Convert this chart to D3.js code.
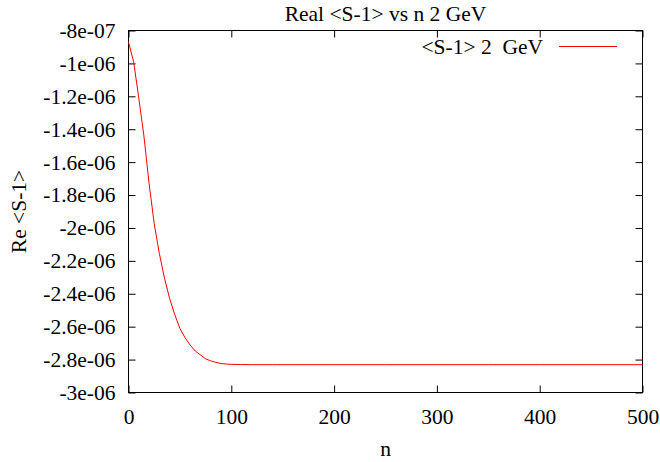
<!DOCTYPE html>
<html>
<head>
<meta charset="utf-8">
<script src="https://cdn.jsdelivr.net/npm/d3@7"></script>
<style>
  html, body { margin: 0; padding: 0; background: #fff; }
  svg { display: block; }
</style>
</head>
<body>
<svg id="chart" width="660" height="462"></svg>
<script>
// ---- data ----
const nValues = [0, 5, 10, 15, 20, 25, 30, 35, 40, 45, 50, 55, 60, 65, 70, 75, 80, 85, 90, 95, 100, 110, 120, 140, 160, 200, 250, 300, 350, 400, 450, 500];
const reS1 = [-8.71e-7, -9.9e-7, -1.21e-6, -1.441e-6, -1.728e-6, -1.974e-6, -2.155e-6, -2.305e-6, -2.428e-6, -2.527e-6, -2.61e-6, -2.667e-6, -2.712e-6, -2.748e-6, -2.772e-6, -2.795e-6, -2.808e-6, -2.817e-6, -2.824e-6, -2.827e-6, -2.829e-6, -2.830e-6, -2.831e-6, -2.831e-6, -2.831e-6, -2.831e-6, -2.831e-6, -2.831e-6, -2.831e-6, -2.831e-6, -2.831e-6, -2.831e-6];
const xTicks = [0, 100, 200, 300, 400, 500];
const yTicks = [-8e-7, -1e-6, -1.2e-6, -1.4e-6, -1.6e-6, -1.8e-6, -2e-6, -2.2e-6, -2.4e-6, -2.6e-6, -2.8e-6, -3e-6];
const yTickLabels = ["-8e-07", "-1e-06", "-1.2e-06", "-1.4e-06", "-1.6e-06", "-1.8e-06", "-2e-06", "-2.2e-06", "-2.4e-06", "-2.6e-06", "-2.8e-06", "-3e-06"];
const titleText = "Real <S-1> vs n 2 GeV";
const seriesName = "<S-1> 2  GeV";
const xLabel = "n";
const yLabel = "Re <S-1>";

// ---- layout ----
const L = 128.5, R = 642.5, T = 30.5, B = 392.5;
const FS = 21.5;
const FONT = "'Liberation Serif', 'Times New Roman', Times, 'DejaVu Serif', serif";
const svg = d3.select("#chart");

const x = d3.scaleLinear().domain([0, 500]).range([L, R]);
const y = d3.scaleLinear().domain([-3e-6, -8e-7]).range([B, T]);

const fmtY = d => yTickLabels[yTicks.findIndex(v => Math.abs(v - d) < 1e-12)];
const gx = svg.append("g").attr("transform", `translate(0,${B})`)
  .call(d3.axisBottom(x).tickValues(xTicks).tickSize(-7).tickPadding(16).tickFormat(d3.format("d")));
const gxTop = svg.append("g").attr("transform", `translate(0,${T})`)
  .call(d3.axisTop(x).tickValues(xTicks).tickSize(-7).tickFormat(""));
const gy = svg.append("g").attr("transform", `translate(${L},0)`)
  .call(d3.axisLeft(y).tickValues(yTicks).tickSize(-7).tickPadding(13).tickFormat(fmtY));
const gyR = svg.append("g").attr("transform", `translate(${R},0)`)
  .call(d3.axisRight(y).tickValues(yTicks).tickSize(-7).tickFormat(""));

[gx, gxTop, gy, gyR].forEach(g => {
  g.attr("font-family", null).attr("font-size", null);
  g.select(".domain").remove();
  g.selectAll("line").attr("stroke", "#000").attr("stroke-width", 1);
  g.selectAll("text").style("font-size", FS + "px").style("font-family", FONT).attr("fill", "#000");
});

svg.append("rect").attr("x", L).attr("y", T).attr("width", R - L).attr("height", B - T)
  .attr("fill", "none").attr("stroke", "#000").attr("stroke-width", 1);

const data = nValues.map((n, i) => ({ n, v: reS1[i] }));
svg.append("path").datum(data)
  .attr("fill", "none").attr("stroke", "#ff0000").attr("stroke-width", 1)
  .attr("d", d3.line().x(d => x(d.n)).y(d => y(d.v)));

function label(sel) {
  return sel.style("font-family", FONT).style("font-size", FS + "px").style("white-space", "pre").attr("fill", "#000");
}

svg.append("text").attr("x", (L + R) / 2).attr("y", 21).attr("text-anchor", "middle")
  .call(label).text(titleText);

svg.append("text").attr("x", 543).attr("y", 53.5).attr("text-anchor", "end")
  .attr("xml:space", "preserve").call(label).text(seriesName);
svg.append("line").attr("x1", 559).attr("x2", 617).attr("y1", 46.5).attr("y2", 46.5)
  .attr("stroke", "#ff0000").attr("stroke-width", 1);

svg.append("text").attr("x", (L + R) / 2).attr("y", 456).attr("text-anchor", "middle")
  .call(label).text(xLabel);
svg.append("text").attr("transform", `translate(26,${(T + B) / 2}) rotate(-90)`)
  .attr("text-anchor", "middle").call(label).text(yLabel);
</script>
</body>
</html>
